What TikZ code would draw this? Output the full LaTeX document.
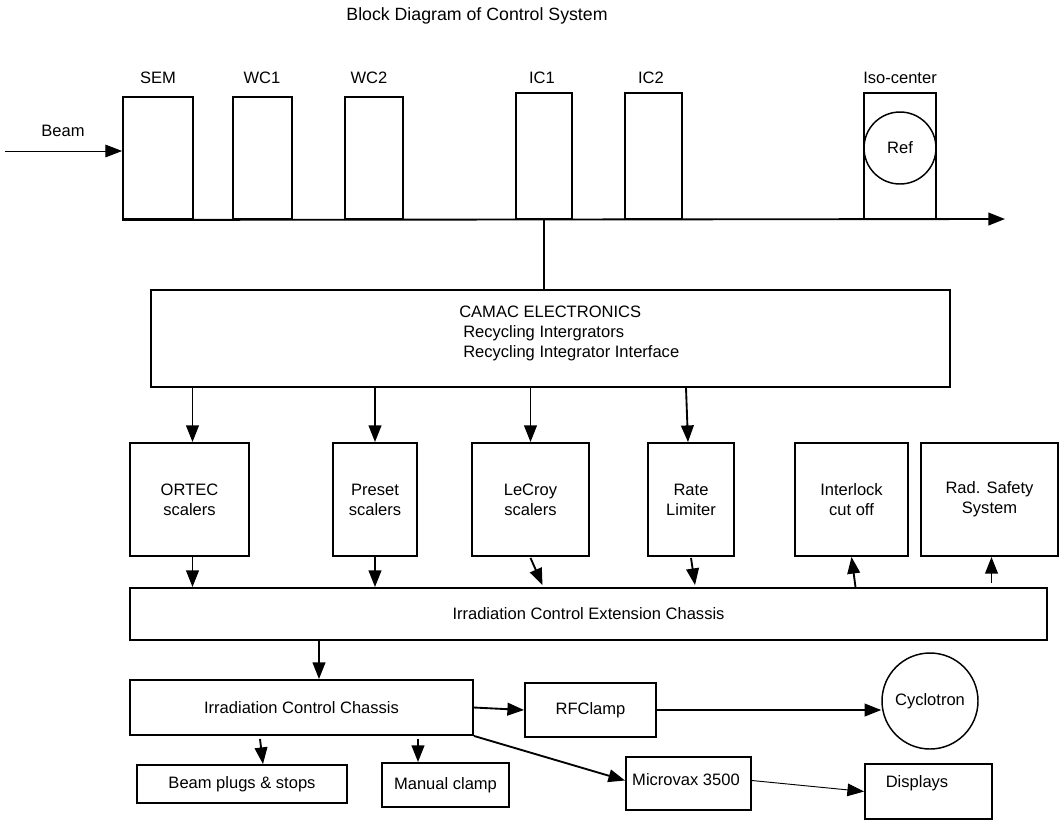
\documentclass[tikz,border=0pt]{standalone}
\usepackage{fontspec}
\setmainfont{Liberation Sans}
\usetikzlibrary{arrows.meta,calc,shapes.geometric}
\begin{document}
\begin{tikzpicture}[x=0.75pt,y=-0.75pt,
  every node/.style={font=\fontsize{12.4}{15}\selectfont, inner sep=0pt},
  box/.style={draw, line width=1.4pt, inner sep=0pt, align=center},
  lbl/.style={inner sep=0pt},
  conn/.style={line width=1.4pt},
  arr/.style={line width=1.4pt, -{Triangle[length=12.5pt,width=9.5pt]}},
  thinarr/.style={line width=0.7pt, -{Triangle[length=12.5pt,width=9.5pt]}}]
\useasboundingbox (0,0) rectangle (1060,826);
% title
\node[lbl, font=\fontsize{13.3}{16}\selectfont] (title) at (477,16) {Block Diagram of Control System};
% beam line detectors
\node[box, minimum width=52.5pt, minimum height=91.5pt] (sem) at (158,158) {};
\node[box, minimum width=44.25pt, minimum height=91.5pt] (wc1) at (262.5,158) {};
\node[box, minimum width=43.5pt, minimum height=91.5pt] (wc2) at (374,158) {};
\node[box, minimum width=42pt, minimum height=94.5pt] (ic1) at (544,156) {};
\node[box, minimum width=42.75pt, minimum height=94.5pt] (ic2) at (653.5,156) {};
\node[box, minimum width=54pt, minimum height=94.5pt] (iso) at (900,156) {};
\node[draw, circle, line width=1.1pt, minimum size=54pt] (ref) at (900,148) {Ref};
\node[lbl] (seml) at (158,78) {SEM};
\node[lbl] (wc1l) at (262,78) {WC1};
\node[lbl] (wc2l) at (369,78) {WC2};
\node[lbl] (ic1l) at (542,78) {IC1};
\node[lbl] (ic2l) at (651,78) {IC2};
\node[lbl] (isol) at (900,78) {Iso-center};
\node[lbl] (beaml) at (63,131) {Beam};
\coordinate (beamstart) at (5,151);
\coordinate (axisend) at (1005,219);
\draw[thinarr] (beamstart) -- (beamstart -| sem.west);
\draw[arr] (sem.south west) -- (axisend);
% CAMAC
\node[box, minimum width=599.25pt, minimum height=72.75pt] (camac) at (550.5,338.5) {};
\node[lbl, anchor=north west, align=left] (camact) at (459,306) {CAMAC ELECTRONICS\\\hspace*{3pt}Recycling Intergrators\\\hspace*{3pt}Recycling Integrator Interface};
\draw[conn] (ic1.south) -- (ic1.south |- camac.north);
% middle row
\node[box, minimum width=89.25pt, minimum height=84.75pt] (ortec) at (189.5,499.5) {ORTEC\\scalers};
\node[box, minimum width=63pt, minimum height=84.75pt] (preset) at (375,499.5) {Preset\\scalers};
\node[box, minimum width=87.75pt, minimum height=84.75pt] (lecroy) at (530.5,499.5) {LeCroy\\scalers};
\node[box, minimum width=64.5pt, minimum height=84.75pt] (rate) at (691,499.5) {Rate\\Limiter};
\node[box, minimum width=84.75pt, minimum height=84.75pt] (inter) at (851.5,499.5) {Interlock\\cut off};
\node[box, minimum width=102.75pt, minimum height=84.75pt] (rad) at (989.5,499.5) {Rad. Safety\\System};
\draw[arr] ($(camac.south -| ortec.north)+(3,0)$) -- ($(ortec.north)+(3,0)$);
\draw[arr] (camac.south -| preset.north) -- (preset.north);
\draw[arr] (camac.south -| lecroy.north) -- (lecroy.north);
\draw[arr] ($(camac.south -| rate.north)+(-5,0)$) -- ($(rate.north)+(-3,0)$);
% extension chassis
\node[box, minimum width=687.75pt, minimum height=39pt] (ext) at (588.5,614) {Irradiation Control Extension Chassis};
\draw[arr] ($(ortec.south)+(3,0)$) -- ($(ortec.south |- ext.north)+(3,0)$);
\draw[arr] (preset.south) -- (preset.south |- ext.north);
\draw[arr] ($(lecroy.south)+(0,1)$) -- ($(lecroy.south |- ext.north)+(12,-2)$);
\draw[arr] ($(rate.south)+(0,1)$) -- ($(rate.south |- ext.north)+(4,-2)$);
\draw[arr] ($(ext.north -| inter.south)+(4,0)$) -- (inter.south);
\draw[arr] ($(ext.north -| rad.south)+(2,-4)$) -- ($(rad.south)+(2,0)$);
% control chassis
\node[box, minimum width=257.25pt, minimum height=41.25pt] (icc) at (301.5,707.5) {Irradiation Control Chassis};
\coordinate (xicc) at (319,0);
\draw[arr] (ext.south -| xicc) -- (icc.north -| xicc);
\node[box, minimum width=98.25pt, minimum height=40.5pt] (rf) at (590.5,710) {RFClamp};
\node[draw, circle, line width=1.1pt, minimum size=72pt] (cyc) at (930,701) {Cyclotron};
\draw[arr] (icc.east) -- (rf.west);
\draw[arr] (rf.east) -- (rf.east -| cyc.west);
\node[box, minimum width=157.5pt, minimum height=28.5pt] (plugs) at (242,784) {Beam plugs \& stops};
\node[box, minimum width=95.25pt, minimum height=33pt] (manual) at (445.5,785) {Manual clamp};
\node[box, minimum width=93.75pt, minimum height=39.75pt] (mv) at (688.5,783.5) {};
\node[lbl] (mvt) at (686,780) {Microvax 3500};
\node[box, minimum width=95.25pt, minimum height=41.25pt] (disp) at (928.5,791.5) {};
\node[lbl] (dispt) at (917,783) {Displays};
\draw[arr] ($(icc.south)+(-41.5,3)$) -- ($(plugs.north)+(21,0)$);
\draw[arr] ($(icc.south)+(116.5,3)$) -- ($(manual.north)+(-27.5,0)$);
\draw[arr] (icc.south east) -- ($(mv.west)+(0,-3)$);
\draw[thinarr] ($(mv.east)+(0,-3)$) -- (disp.west);
\end{tikzpicture}
\end{document}
